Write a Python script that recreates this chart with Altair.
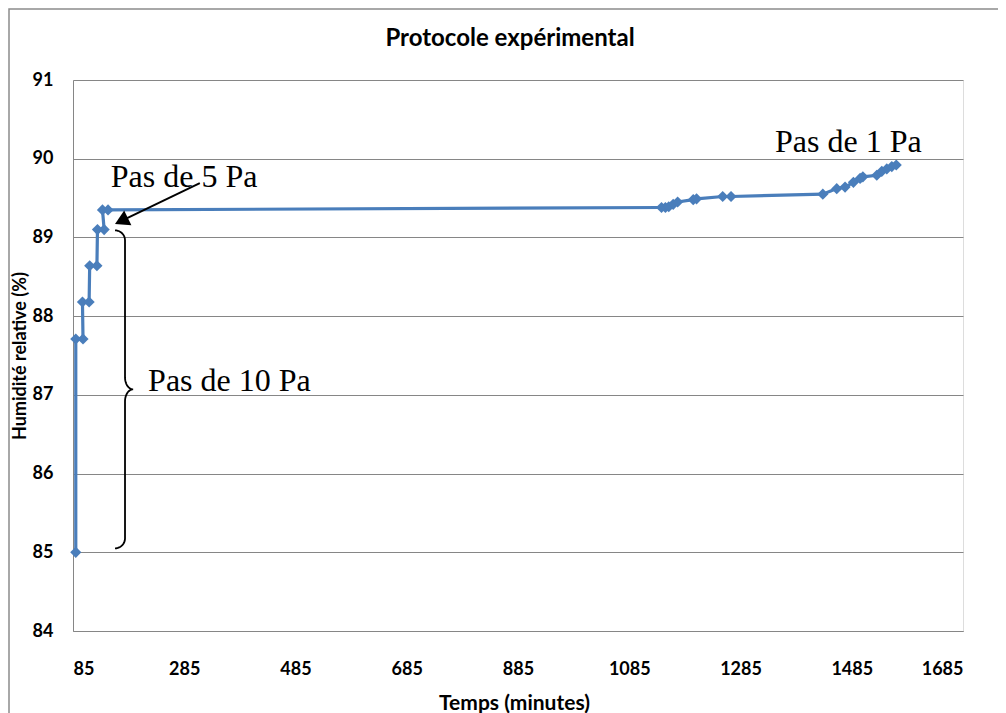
import altair as alt
import pandas as pd
import numpy as np

# ---- data ----
time_min = [90, 90, 103, 102, 114, 115, 128, 129, 141, 138, 148,
            1143, 1150, 1156, 1164, 1172, 1200, 1206, 1253, 1268,
            1433, 1458, 1473, 1488, 1500, 1505, 1530, 1539, 1548, 1557, 1565]
humidity = [85.00, 87.71, 87.71, 88.18, 88.18, 88.64, 88.64, 89.10, 89.10, 89.35, 89.35,
            89.38, 89.38, 89.39, 89.42, 89.45, 89.48, 89.49, 89.52, 89.52,
            89.55, 89.62, 89.64, 89.70, 89.75, 89.77, 89.79, 89.84, 89.87, 89.90, 89.92]

x_ticks = [85, 285, 485, 685, 885, 1085, 1285, 1485, 1685]
y_ticks = [84, 85, 86, 87, 88, 89, 90, 91]

# annotations (data units)
ann_text = ["Pas de 5 Pa", "Pas de 10 Pa", "Pas de 1 Pa"]
ann_x = [153, 220, 1347]
ann_y = [89.645, 87.05, 90.085]

arrow_x = [313, 172]
arrow_y = [89.69, 89.21]
arrow_head_x = [172]
arrow_head_y = [89.21]

# brace anchors (data units)
brace_x_end, brace_x_spine, brace_x_tip = 160.5, 178.5, 193.0
brace_y_top, brace_y_mid, brace_y_bot = 89.09, 87.07, 85.05
brace_rx_end, brace_ry_end = 18.0, 0.127
brace_rx_mid, brace_ry_mid = 14.5, 0.152

BLUE = "#4A7EBB"
GRID = "#868686"
FONT = "Lato"
SERIF = "Liberation Serif"

df = pd.DataFrame({"t": time_min, "h": humidity, "i": range(len(time_min))})

# build brace path
bx, by = [], []
for a in np.linspace(0, np.pi / 2, 12):  # top curl
    bx.append(brace_x_end + brace_rx_end * np.sin(a))
    by.append(brace_y_top - brace_ry_end + brace_ry_end * np.cos(a))
for a in np.linspace(0, np.pi / 2, 12):  # into tip
    bx.append(brace_x_tip - brace_rx_mid * np.cos(a))
    by.append(brace_y_mid + brace_ry_mid - brace_ry_mid * np.sin(a))
for a in np.linspace(np.pi / 2, 0, 12):  # out of tip
    bx.append(brace_x_tip - brace_rx_mid * np.cos(a))
    by.append(brace_y_mid - brace_ry_mid + brace_ry_mid * np.sin(a))
for a in np.linspace(0, np.pi / 2, 12):  # bottom curl
    bx.append(brace_x_end + brace_rx_end * np.cos(a))
    by.append(brace_y_bot + brace_ry_end - brace_ry_end * np.sin(a))
brace_df = pd.DataFrame({"t": bx, "h": by, "i": range(len(bx))})

xscale = alt.Scale(domain=[85, 1685], nice=False, zero=False)
yscale = alt.Scale(domain=[84, 91], nice=False, zero=False)

x_enc = alt.X("t:Q", scale=xscale,
              axis=alt.Axis(values=x_ticks, format="d", title="Temps (minutes)", grid=False,
                            ticks=False, domain=True, domainColor=GRID,
                            labelFont=FONT, labelFontSize=18, labelFontWeight="bold",
                            labelColor="black", labelPadding=29,
                            titleFont=FONT, titleFontSize=21, titleFontWeight="bold",
                            titleColor="black", titlePadding=14, titleX=441))
y_enc = alt.Y("h:Q", scale=yscale,
              axis=alt.Axis(values=y_ticks, format="d", title="Humidité relative (%)",
                            grid=True, gridColor=GRID, gridWidth=1, ticks=False,
                            domain=True, domainColor=GRID, labelFont=FONT,
                            labelFontSize=18, labelFontWeight="bold", labelColor="black",
                            labelPadding=20, titleFont=FONT, titleFontSize=18,
                            titleFontWeight="bold", titleColor="black", titlePadding=3))

line = alt.Chart(df).mark_line(color=BLUE, strokeWidth=3.2).encode(
    x=x_enc, y=y_enc, order="i:Q")
pts = alt.Chart(df).mark_point(shape="diamond", filled=True, color=BLUE,
                               size=125, opacity=1).encode(x="t:Q", y="h:Q")

ann = alt.Chart(pd.DataFrame({"t": ann_x, "h": ann_y, "s": ann_text})).mark_text(
    font=SERIF, fontSize=32, align="left", baseline="alphabetic", color="black"
).encode(x="t:Q", y="h:Q", text="s:N")

arrow = alt.Chart(pd.DataFrame({"t": arrow_x, "h": arrow_y, "i": [0, 1]})).mark_line(
    color="black", strokeWidth=2).encode(x="t:Q", y="h:Q", order="i:Q")
head = alt.Chart(pd.DataFrame({"t": arrow_head_x, "h": arrow_head_y})).mark_point(
    shape="triangle-up", filled=True, color="black", size=270, opacity=1,
    angle=244).encode(x="t:Q", y="h:Q")

brace = alt.Chart(brace_df).mark_line(color="black", strokeWidth=1.8).encode(
    x="t:Q", y="h:Q", order="i:Q")

frame = alt.Chart(pd.DataFrame({"a": [0]})).mark_rect(
    fill=None, stroke="#8c8c8c", strokeWidth=1.5).encode(
    x=alt.value(-64), x2=alt.value(1000), y=alt.value(-71), y2=alt.value(800))

chart = alt.layer(frame, line, pts, brace, arrow, head, ann).properties(
    width=890, height=551,
    title=alt.TitleParams("Protocole expérimental", font=FONT, fontSize=24,
                          fontWeight="bold", color="black", anchor="middle",
                          offset=-43, dx=-8),
    autosize=alt.AutoSizeParams(type="none"),
    padding={"left": 65, "top": 72, "right": 35, "bottom": 95},
).configure_view(stroke=None).configure(background="white")

chart.save("out.html", embed_options={"renderer": "svg", "actions": False})
